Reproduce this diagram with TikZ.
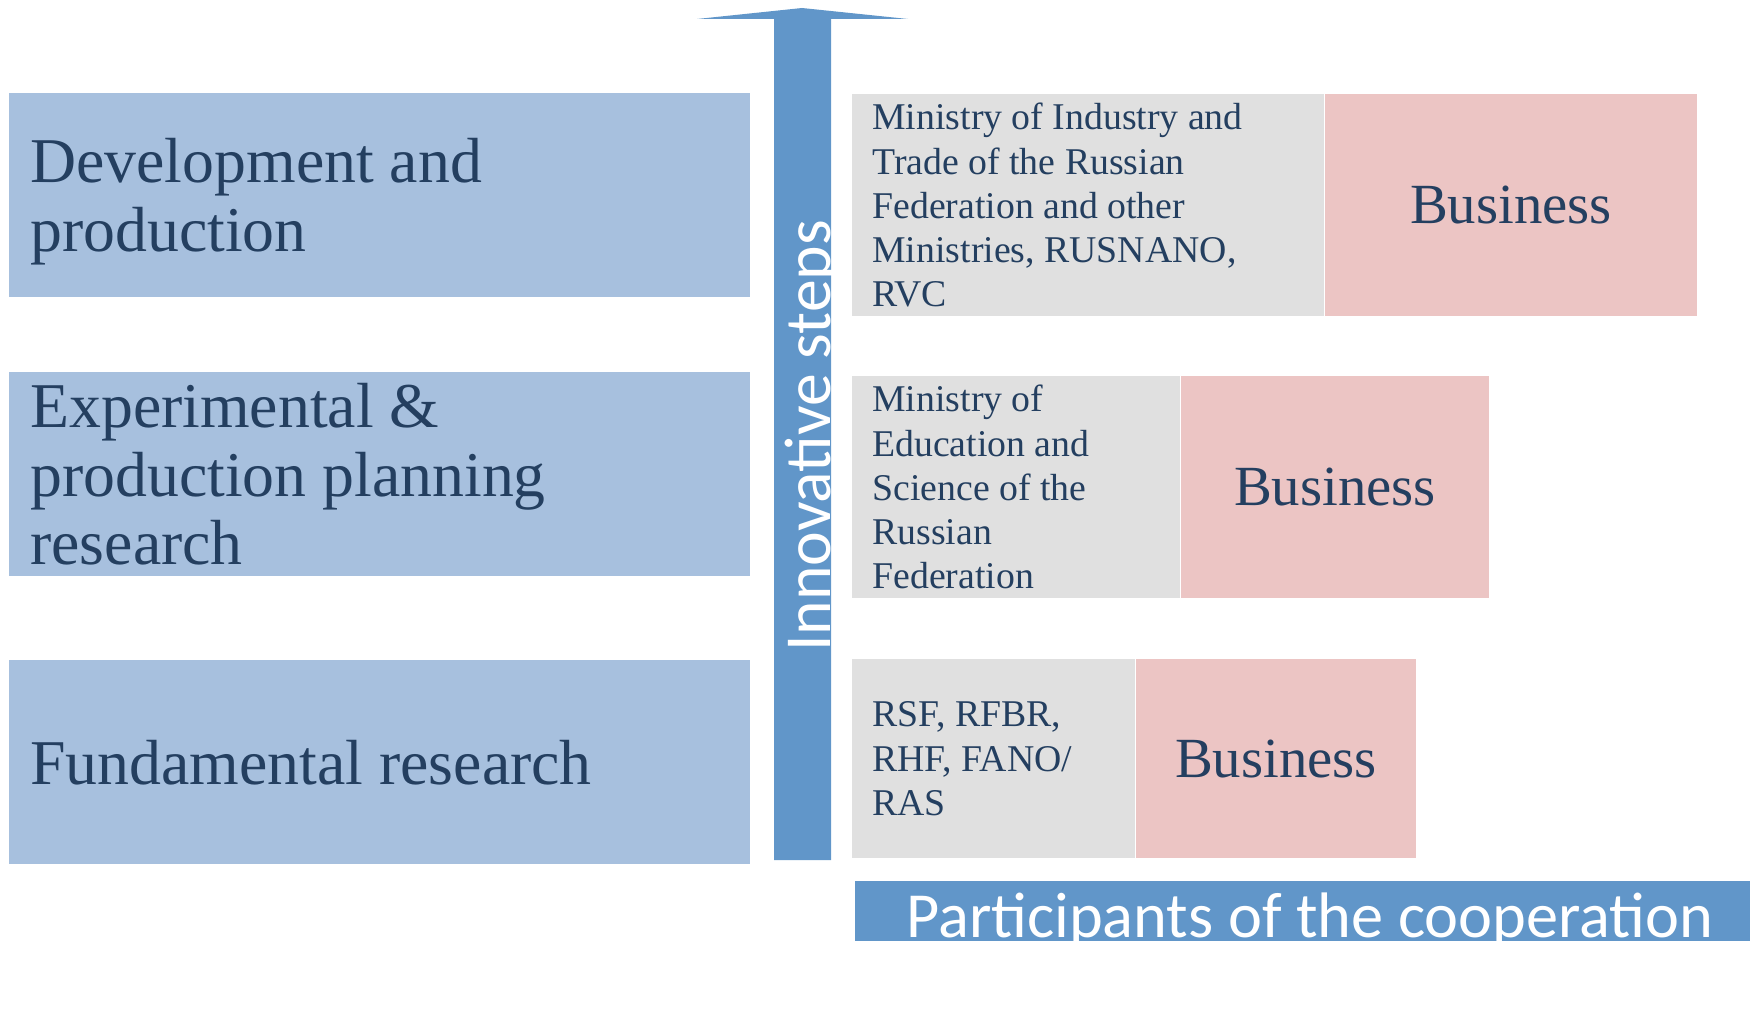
\documentclass[tikz,border=0pt]{standalone}
\usepackage{fontspec}
\setmainfont{Liberation Serif}
\newfontfamily\carlito{Carlito}
\usetikzlibrary{positioning}
\definecolor{stageblue}{HTML}{A7C0DE}
\definecolor{arrowblue}{HTML}{6196C9}
\definecolor{actorgray}{HTML}{E0E0E0}
\definecolor{businesspink}{HTML}{ECC5C4}
\definecolor{inkblue}{HTML}{243F60}
\tikzset{
    stage/.style={
        fill=stageblue,
        rectangle,
        anchor=north west,
        minimum height=4.08cm,
        text width=13.98cm,
        inner xsep=0.42cm,
        inner ysep=0pt,
        align=flush left,
        text=inkblue,
        font=\fontsize{36.3pt}{39.1pt}\selectfont
    },
    actor/.style={
        fill=actorgray,
        rectangle,
        anchor=north west,
        minimum height=4.44cm,
        inner xsep=0.4cm,
        inner ysep=0pt,
        align=flush left,
        text=inkblue,
        font=\fontsize{21.5pt}{25.2pt}\selectfont
    },
    business/.style={
        fill=businesspink,
        rectangle,
        minimum height=4.44cm,
        inner sep=0pt,
        text=inkblue,
        font=\fontsize{32.3pt}{36pt}\selectfont
    },
    banner/.style={
        fill=arrowblue,
        rectangle,
        minimum width=18.18cm,
        minimum height=1.2cm,
        inner sep=0pt,
        text height=1.04cm,
        text depth=0pt,
        text=white,
        font=\carlito\fontsize{36.6pt}{38pt}\selectfont
    },
}

\begin{document}
\begin{tikzpicture}[x=0.02cm, y=-0.02cm, node distance = 0pt]
    \useasboundingbox (0,0) rectangle (1750,1030);

    % stages
    \node[stage, text depth=1.38cm] (dev) at (9,93) {Development and\\production};
    \node[stage] (exp) at (9,372) {Experimental \&\\production planning\\research};
    \node[stage] (fund) at (9,660) {Fundamental research};

    % arrow
    \fill[arrowblue] (774,860) -- (774,19) -- (697,19) -- (802,8) -- (908,19) -- (831,19) -- (831,860) -- cycle;
    \node[rotate=90, anchor=base, inner sep=0pt, text=white, font=\carlito\fontsize{37.4pt}{40pt}\selectfont] (steps) at (830,436) {Innovative steps};

    % participants
    \node[actor, text width=8.64cm] (act1) at (852,94) {Ministry of Industry and\\Trade of the Russian\\Federation and other\\Ministries, RUSNANO,\\RVC};
    \node[business, minimum width=7.44cm, right= of act1] (bus1) {Business};

    \node[actor, text width=5.76cm] (act2) at (852,376) {Ministry of\\Education and\\Science of the\\Russian\\Federation};
    \node[business, minimum width=6.16cm, right= of act2] (bus2) {Business};

    \node[actor, text width=4.86cm, minimum height=3.98cm] (act3) at (852,659) {RSF, RFBR,\\RHF, FANO/\\RAS};
    \node[business, minimum width=5.6cm, minimum height=3.98cm, right= of act3] (bus3) {Business};

    \node[banner, anchor=north west] (participants) at (855,881) {Participants of the cooperation};
\end{tikzpicture}
\end{document}
